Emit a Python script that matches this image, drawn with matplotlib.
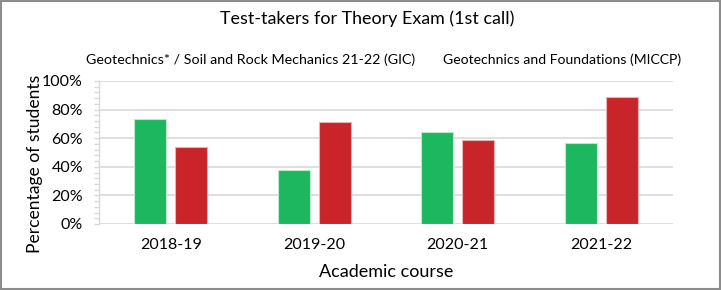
import matplotlib.pyplot as plt
import numpy as np
from matplotlib.patches import Rectangle
from matplotlib.ticker import MultipleLocator, PercentFormatter

plt.rcParams["font.family"] = ["Lato", "DejaVu Sans"]

courses = ["2018-19", "2019-20", "2020-21", "2021-22"]
gic = [73.2, 37.5, 64.3, 56.3]      # Geotechnics* / Soil and Rock Mechanics (GIC)
miccp = [53.8, 71.5, 58.5, 88.6]    # Geotechnics and Foundations (MICCP)
series_names = ["Geotechnics* / Soil and Rock Mechanics 21-22 (GIC)",
                "Geotechnics and Foundations (MICCP)"]

grid_col = "#d9d9d9"

fig = plt.figure(figsize=(7.21, 2.90), dpi=100)
ax = fig.add_axes([0.1373, 0.2276, 0.7961, 0.4931])

x = np.arange(len(courses))
w = 0.223
off = 0.143
ax.bar(x - off, gic, w, color="#1db75f", edgecolor="#b8ecc9", linewidth=0.8, zorder=3)
ax.bar(x + off, miccp, w, color="#c9242a", edgecolor="#eab0b2", linewidth=0.8, zorder=3)

ax.set_xlim(-0.5, len(courses) - 0.5)
ax.set_ylim(0, 100)
ax.yaxis.set_major_locator(MultipleLocator(20))
ax.yaxis.set_minor_locator(MultipleLocator(4))
ax.yaxis.set_major_formatter(PercentFormatter(decimals=0))
ax.set_xticks(x)
ax.set_xticklabels(courses)
ax.grid(axis="y", color=grid_col, linewidth=1.2, zorder=0)

for s in ["top", "right", "bottom"]:
    ax.spines[s].set_visible(False)
ax.spines["left"].set_color(grid_col)
ax.spines["left"].set_linewidth(1.0)
ax.tick_params(axis="y", which="both", length=3.5, width=1.0, color=grid_col,
               labelsize=11.5, pad=8)
ax.tick_params(axis="x", length=0, labelsize=11.5, pad=10)

ax.set_ylabel("Percentage of students", fontsize=12.6, labelpad=8)
ax.yaxis.set_label_coords(-0.097, 0.42)
ax.set_xlabel("Academic course", fontsize=13, labelpad=9)

fig.text(0.509, 0.935, "Test-takers for Theory Exam (1st call)", ha="center",
         va="center", fontsize=12.9)
fig.text(0.119, 0.795, series_names[0], ha="left", va="center", fontsize=10.3)
fig.text(0.6144, 0.795, series_names[1], ha="left", va="center", fontsize=10.1)

fig.patches.append(Rectangle((0.001, 0.002), 0.997, 0.995, transform=fig.transFigure,
                             fill=False, edgecolor="#8c8c8c", linewidth=1.5))

fig.savefig("out.png", dpi=100)
